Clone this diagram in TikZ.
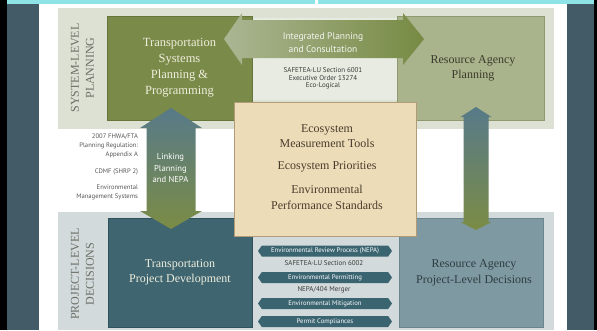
\documentclass[tikz,border=0pt]{standalone}
\usepackage{fontspec}
\setmainfont{Liberation Serif}
\newfontfamily\ptsans{PT Sans}
\usetikzlibrary{shapes.symbols}
\definecolor{slate}{HTML}{435A67}
\definecolor{cyanbar}{HTML}{8EE3E6}
\definecolor{topband}{HTML}{DDE1D3}
\definecolor{botband}{HTML}{D3DADC}
\definecolor{olivebox}{HTML}{7A8A48}
\definecolor{oliveedge}{HTML}{66763A}
\definecolor{lightolive}{HTML}{A9B38C}
\definecolor{lightoliveedge}{HTML}{8E9970}
\definecolor{panelc}{HTML}{E8EBE1}
\definecolor{beige}{HTML}{ECDCB8}
\definecolor{beigeedge}{HTML}{B39B77}
\definecolor{tealbox}{HTML}{3F6570}
\definecolor{tealedge}{HTML}{30525C}
\definecolor{bluegray}{HTML}{7E99A1}
\definecolor{bluegrayedge}{HTML}{6A858D}
\definecolor{tagc}{HTML}{3A6470}
\definecolor{harrowL}{HTML}{ABB693}
\definecolor{harrowR}{HTML}{778A43}
\definecolor{varrowT}{HTML}{577A89}
\definecolor{varrowB}{HTML}{7B8C45}
\definecolor{creamtxt}{HTML}{EEEEDD}
\definecolor{darkolivetxt}{HTML}{3D3B2C}
\definecolor{browntxt}{HTML}{4A3C2C}
\definecolor{darkbluetxt}{HTML}{2E3D44}
\definecolor{labeltxt}{HTML}{6C6E66}
\definecolor{smalltxt}{HTML}{3A3A3A}
\definecolor{greytxt}{HTML}{555555}
\begin{document}
\begin{tikzpicture}[x=1pt,y=-1pt,
  band/.style={fill=#1, draw=none, inner sep=0pt, anchor=north west},
  bigbox/.style={inner sep=0pt, line width=0.8pt, align=center, font=\fontsize{12}{15.5}\selectfont},
  sidelabel/.style={rotate=90, align=center, text=labeltxt, font=\fontsize{12}{15}\selectfont},
  sanstxt/.style={align=center, font=\ptsans\fontsize{9.5}{12.5}\selectfont},
  tinytxt/.style={align=center, text=smalltxt, font=\ptsans\fontsize{7}{7.6}\selectfont},
  lefttxt/.style={align=right, anchor=east, text=greytxt, font=\ptsans\fontsize{6.6}{9}\selectfont},
  tagbox/.style={signal, signal to=west and east, signal pointer angle=110, fill=tagc, draw=none,
    minimum width=134pt, minimum height=11pt, inner sep=0pt, text=white,
    font=\ptsans\fontsize{6.7}{7}\selectfont}
]
\useasboundingbox (0,0) rectangle (597,330);
% frame
\fill[black] (0,0) rectangle (597,330);
\fill[slate] (7,0) rectangle (594,330);
\fill[white] (39,4) rectangle (567,330);
\fill[cyanbar] (7,0) rectangle (594,4);
\fill[white] (315,0) rectangle (318,4);
% bands
\node[band=topband, minimum width=496pt, minimum height=121pt] (sysband) at (58,8) {};
\node[band=botband, minimum width=496pt, minimum height=118pt] (projband) at (58,212) {};
\node[sidelabel] (syslabel) at (82.5,68) {SYSTEM-LEVEL\\PLANNING};
\node[sidelabel] (projlabel) at (82.5,274) {PROJECT-LEVEL\\DECISIONS};
% panel under the horizontal arrow
\node[band=panelc, minimum width=146pt, minimum height=82pt] (panel) at (252,18) {};
% main boxes
\node[bigbox, fill=olivebox, draw=oliveedge, text=creamtxt, minimum width=145pt, minimum height=104pt,
  font=\fontsize{12.5}{16}\selectfont] (tspp) at (179.5,68) {Transportation\\Systems\\Planning \&\\Programming};
\node[bigbox, fill=lightolive, draw=lightoliveedge, minimum width=147pt, minimum height=104pt] (rap) at (470.5,68) {};
\node[bigbox, text=darkolivetxt] (raptxt) at (473,68.5) {Resource Agency\\Planning};
\node[bigbox, fill=tealbox, draw=tealedge, text=creamtxt, minimum width=144pt, minimum height=109pt] (tpd) at (180,272.5) {};
\node[bigbox, text=creamtxt] (tpdtxt) at (180,272.5) {Transportation\\Project Development};
\node[bigbox, fill=bluegray, draw=bluegrayedge, minimum width=144pt, minimum height=109pt] (rapl) at (471,272.5) {};
\node[bigbox, text=darkbluetxt] (rapltxt) at (474,273) {Resource Agency\\Project-Level Decisions};
% horizontal double arrow
\shade[left color=harrowL, right color=harrowR]
  (224,39) -- (242,13) -- (242,20) -- (403,20) -- (403,13) -- (424,39)
  -- (403,65) -- (403,58) -- (242,58) -- (242,65) -- cycle;
\node[sanstxt, text=white!92!olivebox] (ipc) at (323,42.5) {Integrated Planning\\and Consultation};
\node[tinytxt] (safe1) at (323,78.5) {SAFETEA-LU Section 6001\\Executive Order 13274\\Eco-Logical};
% left vertical double arrow
\shade[top color=varrowT, bottom color=varrowB]
  (171,108) -- (202,128) -- (195.5,128) -- (195.5,211) -- (202,211) -- (171,229)
  -- (140,211) -- (146.5,211) -- (146.5,128) -- (140,128) -- cycle;
\node[sanstxt, text=white, font=\ptsans\fontsize{8.6}{11.5}\selectfont] (lpn) at (170.5,168.5) {Linking\\Planning\\and NEPA};
% right vertical double arrow
\shade[top color=varrowT, bottom color=varrowB]
  (476,107) -- (491.5,117) -- (488.5,117) -- (488.5,222) -- (491.5,222) -- (476,230)
  -- (460.5,222) -- (463.5,222) -- (463.5,117) -- (460.5,117) -- cycle;
% left notes
\node[lefttxt] (note1) at (141.5,146) {2007 FHWA/FTA\\Planning Regulation:\\Appendix A};
\node[lefttxt] (note2) at (141.5,172) {CDMF (SHRP 2)};
\node[lefttxt] (note3) at (141.5,192.5) {Environmental\\Management Systems};
% central box
\node[bigbox, fill=beige, draw=beigeedge, line width=1pt, minimum width=182pt, minimum height=134pt] (eco) at (325,169) {};
\node[bigbox, text=browntxt] (eco1) at (327,136) {Ecosystem\\Measurement Tools};
\node[bigbox, text=browntxt] (eco2) at (327,167) {Ecosystem Priorities};
\node[bigbox, text=browntxt] (eco3) at (327,197.5) {Environmental\\Performance Standards};
% tags
\node[tagbox] (tag1) at (325,251) {Environmental Review Process (NEPA)};
\node[tinytxt] (t6002) at (324,263.5) {SAFETEA-LU Section 6002};
\node[tagbox] (tag2) at (325,277.5) {Environmental Permitting};
\node[tinytxt] (t404) at (324,289.5) {NEPA/404 Merger};
\node[tagbox] (tag3) at (325,303.5) {Environmental Mitigation};
\node[tagbox] (tag4) at (325,321.5) {Permit Compliances};
\end{tikzpicture}
\end{document}
